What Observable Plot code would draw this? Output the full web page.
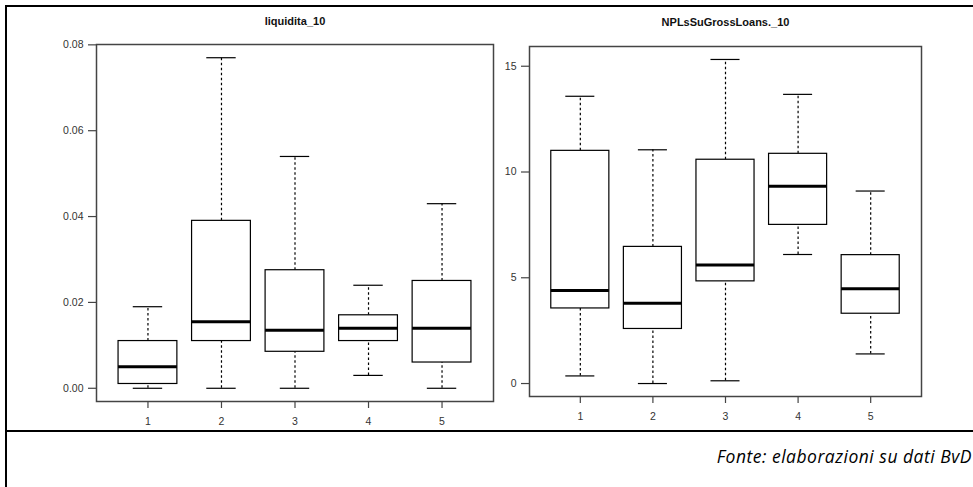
<!DOCTYPE html>
<html>
<head>
<meta charset="utf-8">
<script src="https://cdn.jsdelivr.net/npm/d3@7"></script>
<script src="https://cdn.jsdelivr.net/npm/@observablehq/plot@0.6"></script>
<style>
  body { margin: 0; background: #fff; }
  #wrap { position: relative; width: 973px; height: 487px; background: #fff; overflow: hidden; }
  .line { position: absolute; background: #000; }
  .panel { position: absolute; top: 0; height: 431px; }
  .panel svg { max-width: none !important; }
  #caption { position: absolute; right: 1px; top: 444px; font-family: "Open Sans", "Liberation Sans", sans-serif; font-style: italic; font-size: 17.5px; letter-spacing: 0.5px; color: #000; white-space: nowrap; }
</style>
</head>
<body>
<div id="wrap">
  <div class="line" style="left:5px;top:5px;width:968px;height:2px"></div>
  <div class="line" style="left:5px;top:5px;width:2px;height:482px"></div>
  <div class="line" style="left:5px;top:430px;width:968px;height:2px"></div>
  <div class="panel" id="left" style="left:0px;width:500px"></div>
  <div class="panel" id="right" style="left:500px;width:473px"></div>
  <div id="caption">Fonte: elaborazioni su dati BvD</div>
</div>
<script>
// ---- data ----
const groups = [1, 2, 3, 4, 5];

const liqTitle = "liquidita_10";
const liqLower  = [0.000, 0.000, 0.000, 0.003, 0.000];
const liqQ1     = [0.001, 0.011, 0.0085, 0.011, 0.006];
const liqMedian = [0.005, 0.0155, 0.0135, 0.014, 0.014];
const liqQ3     = [0.011, 0.039, 0.0275, 0.017, 0.025];
const liqUpper  = [0.019, 0.077, 0.054, 0.024, 0.043];
const liqTicks  = [0, 0.02, 0.04, 0.06, 0.08];

const nplTitle = "NPLsSuGrossLoans._10";
const nplLower  = [0.36, 0.00, 0.13, 6.10, 1.40];
const nplQ1     = [3.55, 2.58, 4.83, 7.50, 3.30];
const nplMedian = [4.40, 3.80, 5.60, 9.33, 4.48];
const nplQ3     = [11.00, 6.46, 10.58, 10.86, 6.07];
const nplUpper  = [13.58, 11.05, 15.32, 13.67, 9.10];
const nplTicks  = [0, 5, 10, 15];

function table(lo, q1, med, q3, hi) {
  return groups.map((g, i) => ({g, lo: lo[i], q1: q1[i], med: med[i], q3: q3[i], hi: hi[i]}));
}

function rDomain(rows) {
  const mn = d3.min(rows, d => d.lo), mx = d3.max(rows, d => d.hi);
  const pad = (mx - mn) * 0.04;
  return [mn - pad, mx + pad];
}

function boxplot(rows, opts) {
  const dash = "2.5,2.5";
  const xDom = [0.3, 5.7];
  const yDom = rDomain(rows);
  return Plot.plot({
    width: opts.width, height: 431,
    marginLeft: opts.ml, marginRight: opts.mr, marginTop: opts.mt, marginBottom: opts.mb,
    x: {domain: xDom, label: null},
    y: {domain: yDom, label: null},
    style: {fontFamily: "'Liberation Sans', Arial, sans-serif", fontSize: "10px", background: "transparent", color: "#333", overflow: "visible"},
    marks: [
      Plot.ruleX(rows, {x: "g", y1: "q3", y2: "hi", stroke: "#000", strokeWidth: 1.2, strokeDasharray: dash}),
      Plot.ruleX(rows, {x: "g", y1: "lo", y2: "q1", stroke: "#000", strokeWidth: 1.2, strokeDasharray: dash}),
      Plot.ruleY(rows, {y: "hi", x1: d => d.g - 0.2, x2: d => d.g + 0.2, stroke: "#000", strokeWidth: 1.2}),
      Plot.ruleY(rows, {y: "lo", x1: d => d.g - 0.2, x2: d => d.g + 0.2, stroke: "#000", strokeWidth: 1.2}),
      Plot.rect(rows, {x1: d => d.g - 0.4, x2: d => d.g + 0.4, y1: "q1", y2: "q3", fill: "#fff", stroke: "#000", strokeWidth: 1.2}),
      Plot.ruleY(rows, {y: "med", x1: d => d.g - 0.4, x2: d => d.g + 0.4, stroke: "#000", strokeWidth: 3}),
      Plot.frame({stroke: "#444", strokeWidth: 1.5}),
      // tick marks (outside the frame)
      Plot.ruleY(opts.ticks, {y: d => d, x1: () => xDom[0], x2: () => xDom[0], insetLeft: -8, stroke: "#444", strokeWidth: 1.2}),
      Plot.ruleX(groups, {x: d => d, y1: () => yDom[0], y2: () => yDom[0], insetBottom: -7, stroke: "#444", strokeWidth: 1.2}),
      // tick labels
      Plot.axisY({ticks: opts.ticks, tickFormat: opts.fmt, tickSize: 0, tickPadding: 13, fontSize: 10.5, label: null}),
      Plot.axisX({ticks: groups, tickFormat: d3.format("d"), tickSize: 0, tickPadding: 16, fontSize: 10.5, label: null}),
      Plot.text([opts.title], {text: d => d, frameAnchor: "top", dy: opts.tdy, fontWeight: "bold", fontSize: 11, fill: "#111"})
    ]
  });
}

document.getElementById("left").appendChild(boxplot(
  table(liqLower, liqQ1, liqMedian, liqQ3, liqUpper),
  {width: 500, ml: 96, mr: 7, mt: 44, mb: 30, ticks: liqTicks, fmt: d3.format(".2f"), title: liqTitle, tdy: -27}
));
document.getElementById("right").appendChild(boxplot(
  table(nplLower, nplQ1, nplMedian, nplQ3, nplUpper),
  {width: 473, ml: 29, mr: 52, mt: 46, mb: 35, ticks: nplTicks, fmt: d3.format("d"), title: nplTitle, tdy: -28}
));
</script>
</body>
</html>
